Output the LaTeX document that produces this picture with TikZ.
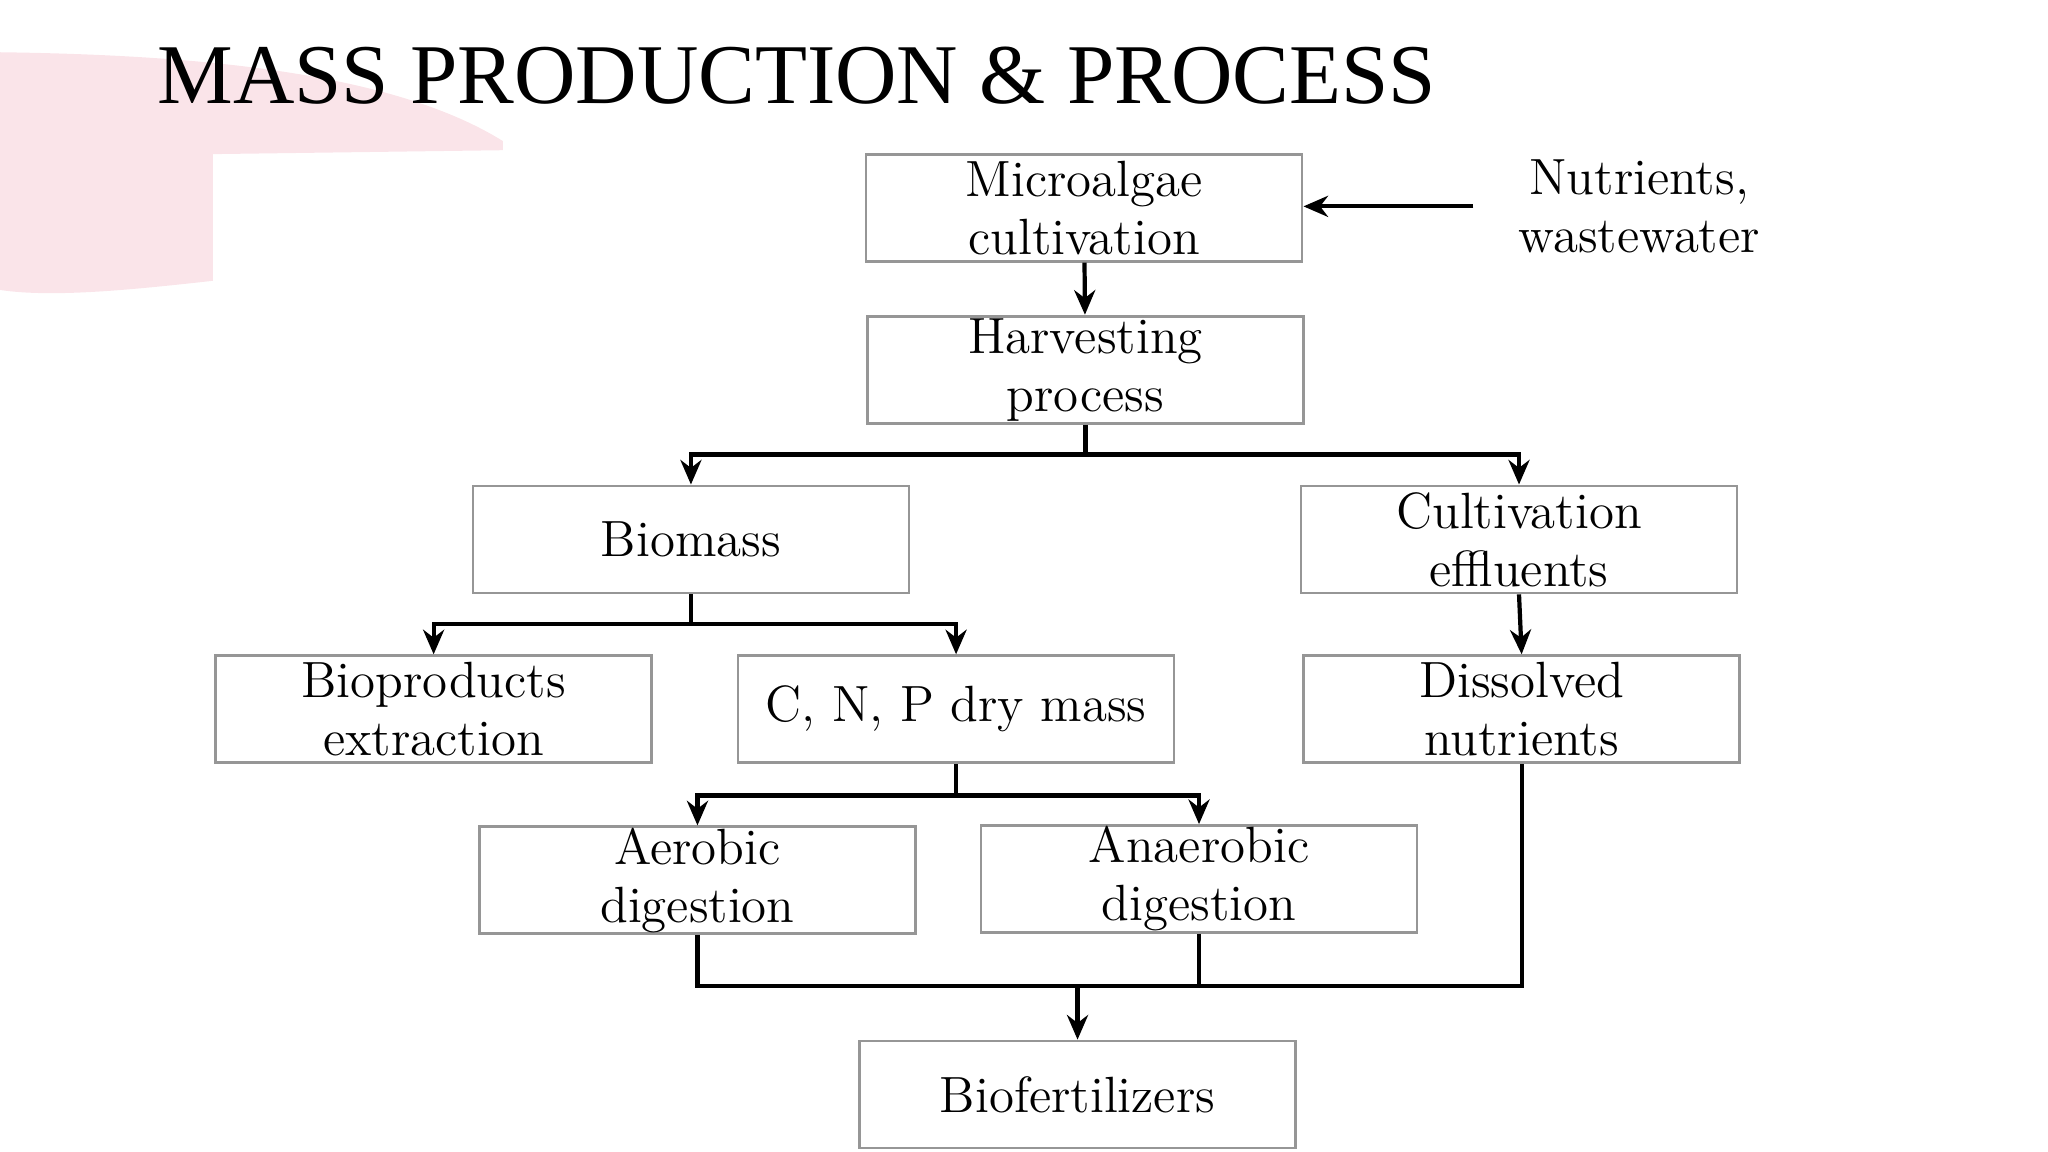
\documentclass[tikz,border=0pt]{standalone}
\usepackage{fontspec}
\newfontfamily\titlefont{Liberation Serif}
\usetikzlibrary{arrows.meta}
\definecolor{pinkbg}{RGB}{250,228,233}
\definecolor{boxgray}{RGB}{150,150,150}
\begin{document}
\begin{tikzpicture}[x=0.013061cm,y=-0.013061cm,
  box/.style={draw=boxgray,line width=0.8pt,minimum width=4.36cm,minimum height=1.07cm,align=center,font=\fontsize{14.5}{16.5}\selectfont,inner sep=0pt},
  con/.style={line width=1.2pt},
  arr/.style={line width=1.2pt,-{Stealth[length=7pt,width=6pt]}}]
\useasboundingbox (0,0) rectangle (1568,882);
\fill[pinkbg] (0,40) .. controls (150,42) and (300,55) .. (385,108) -- (385,115) -- (163,118) -- (163,215) .. controls (100,222) and (40,228) .. (0,222) -- cycle;
\node[anchor=west,font=\titlefont\fontsize{24.2}{28}\selectfont,inner sep=0pt] (title) at (120,58) {MASS PRODUCTION \& PROCESS};
\node[box] (micro) at (830,159) {Microalgae\\cultivation};
\node[box] (harv) at (831,283) {Harvesting\\process};
\node[box] (bio) at (529,413) {Biomass};
\node[box] (eff) at (1163,413) {Cultivation\\effluents};
\node[box] (bprod) at (332,543) {Bioproducts\\extraction};
\node[box] (cnp) at (732,543) {C, N, P dry mass};
\node[box] (diss) at (1165,543) {Dissolved\\nutrients};
\node[box] (aer) at (534,674) {Aerobic\\digestion};
\node[box] (ana) at (918,673) {Anaerobic\\digestion};
\node[box] (fert) at (825,838) {Biofertilizers};
\node[align=center,font=\fontsize{14.5}{16.5}\selectfont,inner sep=0pt] (nut) at (1255,158) {Nutrients,\\wastewater};
\coordinate (nutL) at (1128,158);
\draw[arr] (nutL) -- (micro.east|-nutL);
\draw[arr] (micro) -- (harv);
\coordinate (j1) at (831,348);
\draw[con] (harv.south) -- (j1);
\draw[arr] (j1) -| (bio.north);
\draw[arr] (j1) -| (eff.north);
\coordinate (j2) at (529,478);
\draw[con] (bio.south) -- (j2);
\draw[arr] (j2) -| (bprod.north);
\draw[arr] (j2) -| (cnp.north);
\draw[arr] (eff.south) -- (diss.north);
\coordinate (j3) at (732,609);
\draw[con] (cnp.south) -- (j3);
\draw[arr] (j3) -| (aer.north);
\draw[arr] (j3) -| (ana.north);
\coordinate (j4) at (825,755);
\draw[con] (aer.south) |- (j4);
\draw[con] (ana.south) |- (j4);
\draw[con] (diss.south) |- (j4);
\draw[arr] (j4) -- (fert.north);
\end{tikzpicture}
\end{document}
